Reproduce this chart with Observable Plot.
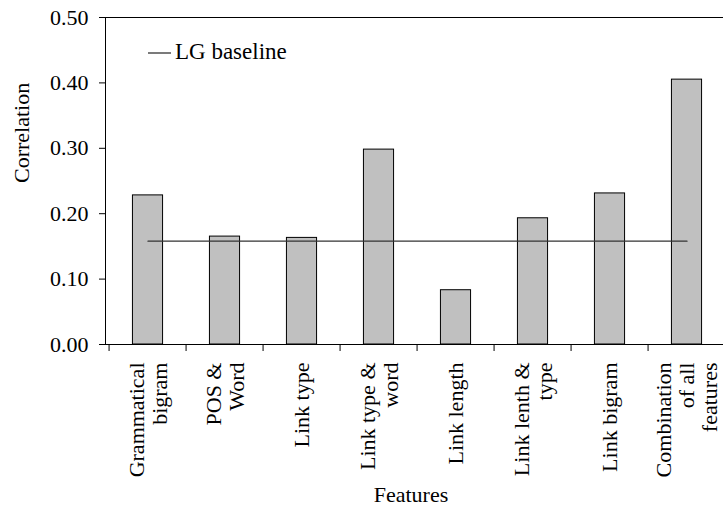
<!DOCTYPE html>
<html><head><meta charset="utf-8">
<script src="https://cdn.jsdelivr.net/npm/d3@7"></script>
<script src="https://cdn.jsdelivr.net/npm/@observablehq/plot@0.6"></script>
<style>body{margin:0;background:#fff;} #chart{position:relative;width:723px;height:506px;overflow:hidden}</style>
</head><body><div id="chart"></div>
<script>
const categories = ["Grammatical\nbigram", "POS &\nWord", "Link type", "Link type &\nword", "Link length", "Link lenth &\ntype", "Link bigram", "Combination\nof all\nfeatures"];
const correlation = [0.228, 0.165, 0.163, 0.298, 0.083, 0.193, 0.231, 0.405];
const baselineLabel = "LG baseline";
const baselineValue = 0.158;
const yTicks = [0, 0.1, 0.2, 0.3, 0.4, 0.5];
const xTitle = "Features";
const yTitle = "Correlation";

const data = categories.map((c, i) => ({feature: c, value: correlation[i]}));
const baselineData = categories.map(c => ({feature: c, value: baselineValue}));
const W = 723, H = 506, mL = 105, mR = -5, mT = 17, mB = 162;
const bw = (W - mR - mL) / categories.length;
const barW = 31;
const font = "'Liberation Serif','Times New Roman',Times,serif";

const chart = Plot.plot({
  width: W, height: H, marginLeft: mL, marginRight: mR, marginTop: mT, marginBottom: mB,
  style: {fontFamily: font, fontSize: "22px", background: "#fff", color: "#000", overflow: "hidden"},
  x: {domain: categories, padding: 0},
  y: {domain: [0, 0.5]},
  marks: [
    Plot.barY(data, {x: "feature", y: "value", fill: "#c0c0c0", stroke: "#000", strokeWidth: 1,
      insetLeft: (bw - barW) / 2, insetRight: (bw - barW) / 2}),
    Plot.lineY(baselineData, {x: "feature", y: "value", stroke: "#333", strokeWidth: 1.3}),
    Plot.frame({stroke: "#000", strokeWidth: 1}),
    Plot.axisY({ticks: yTicks, tickFormat: d3.format(".2f"), tickSize: 6, tickPadding: 11, label: null}),
    Plot.axisX({tickSize: 7, dx: -bw / 2, fill: "none", label: null}),
    Plot.axisX({tickSize: 0, tickPadding: 18, tickRotate: -90, label: null, lineHeight: 1.05}),
    Plot.text([xTitle], {frameAnchor: "bottom", dy: 157, dx: -6, lineAnchor: "bottom"}),
    Plot.text([yTitle], {frameAnchor: "left", dx: -84, dy: 2, rotate: -90})
  ]
});
document.getElementById("chart").appendChild(chart);

const svg = d3.select(chart);
svg.append("line").attr("x1", 148).attr("x2", 171).attr("y1", 53).attr("y2", 53)
  .attr("stroke", "#333").attr("stroke-width", 1.3);
svg.append("text").attr("x", 175).attr("y", 58.7).attr("fill", "#000")
  .attr("text-anchor", "start").style("font-size", "23px").text(baselineLabel);
</script>
</body></html>
